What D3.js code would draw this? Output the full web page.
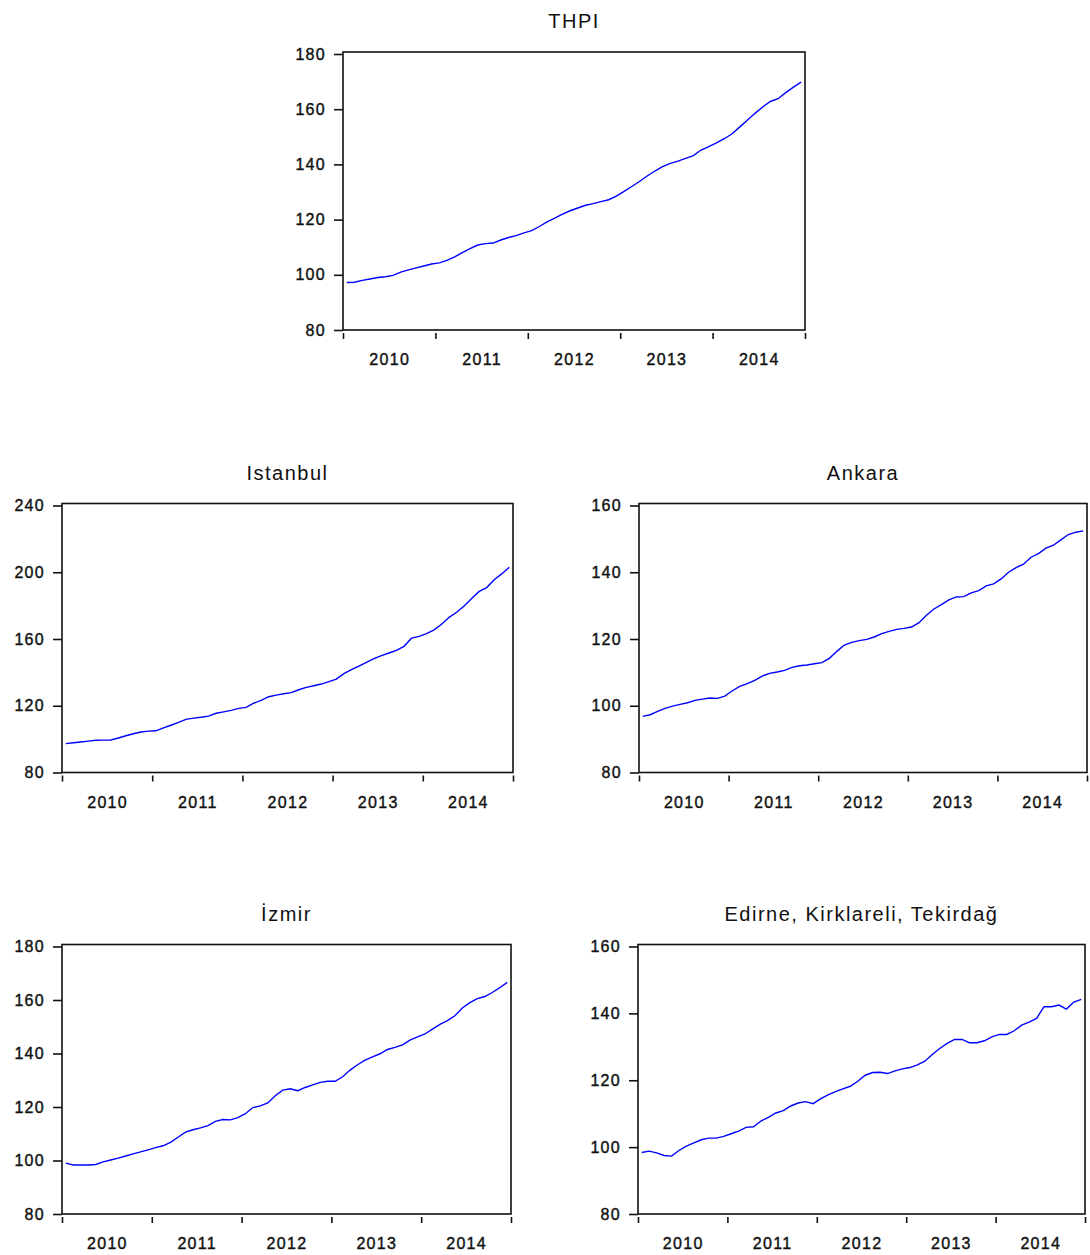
<!DOCTYPE html>
<meta charset="utf-8"/>
<title>House price indices</title>
<style>
    body {
        margin: 0;
        background: #fff;
    }

    svg {
        display: block;
    }

    text {
        font-family: Arial, "Liberation Sans", sans-serif;
        fill: #111;
    }

    .title {
        font-size: 20px;
        letter-spacing: 1.5px;
    }

    .tick text {
        font-size: 16px;
        letter-spacing: 1.3px;
        stroke: #111;
        stroke-width: 0.4px;
    }

    .tick line {
        stroke: #111;
        stroke-width: 1.6px;
    }

    .frame {
        fill: none;
        stroke: #111;
        stroke-width: 1.6px;
    }

    .series {
        fill: none;
        stroke: #0000ff;
        stroke-width: 1.4px;
    }
</style>
<script src="https://cdn.jsdelivr.net/npm/d3@7"></script>
<svg id="chart" width="1090" height="1255"></svg>
<script>
    "use strict";

    // monthly, 2010M01 .. 2014M12
    const years = [2010, 2011, 2012, 2013, 2014];

    const thpi = [
        97.2, 97.3, 98.0, 98.5, 99.0, 99.3, 99.8, 101.0, 101.8, 102.5, 103.2, 103.9,
        104.3, 105.2, 106.5, 108.0, 109.5, 110.8, 111.3, 111.5, 112.6, 113.5, 114.2, 115.2,
        116.0, 117.5, 119.2, 120.5, 122.0, 123.2, 124.2, 125.2, 125.8, 126.5, 127.2, 128.5,
        130.2, 132.0, 133.8, 135.8, 137.6, 139.2, 140.4, 141.2, 142.2, 143.2, 145.2, 146.4,
        147.8, 149.3, 151.0, 153.5, 156.0, 158.5, 160.8, 162.8, 163.8, 166.0, 168.0, 169.8
    ];

    const istanbul = [
        97.3, 97.8, 98.3, 98.8, 99.3, 99.4, 99.5, 100.7, 102.0, 103.2, 104.3, 104.8,
        105.0, 106.7, 108.3, 110.0, 111.8, 112.6, 113.1, 113.8, 115.5, 116.3, 117.2, 118.4,
        119.0, 121.5, 123.2, 125.4, 126.4, 127.2, 127.9, 129.6, 131.0, 132.0, 133.0, 134.5,
        136.0, 139.2, 141.7, 143.8, 146.0, 148.2, 150.0, 151.6, 153.2, 155.6, 160.5, 161.6,
        163.2, 165.5, 168.8, 173.0, 176.0, 179.8, 184.2, 188.5, 190.8, 195.5, 199.0, 203.0
    ];

    const ankara = [
        96.8, 97.3, 98.3, 99.2, 99.9, 100.4, 100.9, 101.6, 102.0, 102.3, 102.2, 102.9,
        104.5, 105.8, 106.6, 107.6, 108.9, 109.7, 110.1, 110.6, 111.5, 112.0, 112.2, 112.6,
        112.9, 114.2, 116.3, 118.2, 119.0, 119.5, 119.9, 120.6, 121.6, 122.3, 122.9, 123.2,
        123.6, 124.9, 127.1, 129.0, 130.3, 131.7, 132.6, 132.7, 133.8, 134.5, 135.9, 136.5,
        138.0, 140.0, 141.4, 142.4, 144.5, 145.6, 147.2, 148.1, 149.7, 151.3, 152.0, 152.4
    ];

    const izmir = [
        99.0, 98.3, 98.3, 98.3, 98.5, 99.5, 100.2, 100.9, 101.7, 102.5, 103.2, 104.0,
        104.8, 105.5, 106.8, 108.7, 110.6, 111.5, 112.2, 113.0, 114.6, 115.3, 115.2, 116.0,
        117.5, 119.8, 120.4, 121.5, 124.2, 126.3, 126.8, 126.1, 127.3, 128.3, 129.2, 129.6,
        129.6, 131.3, 133.8, 135.8, 137.5, 138.7, 139.9, 141.5, 142.3, 143.2, 145.0, 146.2,
        147.3, 149.1, 150.9, 152.3, 154.1, 157.0, 159.0, 160.5, 161.3, 162.8, 164.6, 166.6
    ];

    const edirne = [
        98.4, 98.8, 98.3, 97.5, 97.3, 99.0, 100.3, 101.3, 102.2, 102.7, 102.7, 103.2,
        104.0, 104.8, 105.9, 106.1, 107.8, 108.9, 110.2, 110.9, 112.3, 113.2, 113.6, 113.0,
        114.4, 115.6, 116.6, 117.4, 118.2, 119.7, 121.5, 122.3, 122.4, 122.0, 122.8, 123.4,
        123.8, 124.6, 125.7, 127.7, 129.5, 131.0, 132.2, 132.2, 131.2, 131.2, 131.8, 133.0,
        133.7, 133.7, 134.8, 136.5, 137.4, 138.5, 142.0, 142.0, 142.5, 141.3, 143.4, 144.2
    ];

    const thpiTicks = [80, 100, 120, 140, 160, 180];
    const istanbulTicks = [80, 120, 160, 200, 240];
    const ankaraTicks = [80, 100, 120, 140, 160];
    const izmirTicks = [80, 100, 120, 140, 160, 180];
    const edirneTicks = [80, 100, 120, 140, 160];

    // frame boxes: [left, top, right, bottom]
    const panels = [
        {title: "THPI", values: thpi, ticks: thpiTicks, box: [343, 52, 805, 330]},
        {title: "Istanbul", values: istanbul, ticks: istanbulTicks, box: [62, 503.5, 513, 772.5]},
        {title: "Ankara", values: ankara, ticks: ankaraTicks, box: [639, 503.5, 1087, 772.5]},
        {title: "İzmir", values: izmir, ticks: izmirTicks, box: [62, 944.5, 511, 1214]},
        {title: "Edirne, Kirklareli, Tekirdağ", values: edirne, ticks: edirneTicks, box: [638, 944.5, 1085, 1214]}
    ];

    const svg = d3.select("#chart");

    panels.forEach(function (p)
    {
        const [left, top, right, bottom] = p.box;
        const g = svg.append("g");

        const x = d3.scaleLinear()
            .domain([years[0], years[years.length - 1] + 1])
            .range([left, right]);

        const y = d3.scaleLinear()
            .domain(d3.extent(p.ticks))
            .range([bottom, top + 2]);

        // title
        g.append("text")
            .attr("class", "title")
            .attr("x", (left + right) / 2)
            .attr("y", top - 24)
            .attr("text-anchor", "middle")
            .text(p.title);

        // y axis
        g.append("g")
            .attr("transform", "translate(" + left + ",0)")
            .call(d3.axisLeft(y).tickValues(p.ticks).tickSize(9).tickPadding(8))
            .call(a => a.select(".domain").remove());

        // x axis ticks at year boundaries, below the frame
        g.append("g")
            .attr("transform", "translate(0," + (bottom + 3) + ")")
            .call(d3.axisBottom(x)
                .tickValues(years.concat(years[years.length - 1] + 1))
                .tickSize(6)
                .tickFormat(""))
            .call(a => a.select(".domain").remove());

        // year labels centred in each year
        g.append("g")
            .attr("transform", "translate(0," + bottom + ")")
            .call(d3.axisBottom(x)
                .tickValues(years.map(v => v + 0.5))
                .tickSize(0)
                .tickPadding(24)
                .tickFormat(v => String(Math.floor(v))))
            .call(a => a.select(".domain").remove());

        // frame
        g.append("rect")
            .attr("class", "frame")
            .attr("x", left)
            .attr("y", top)
            .attr("width", right - left)
            .attr("height", bottom - top);

        // series, one point per month at mid-month
        const line = d3.line()
            .x((d, i) => x(years[0] + (i + 0.5) / 12))
            .y(d => y(d));

        g.append("path")
            .attr("class", "series")
            .attr("d", line(p.values));
    });
</script>
